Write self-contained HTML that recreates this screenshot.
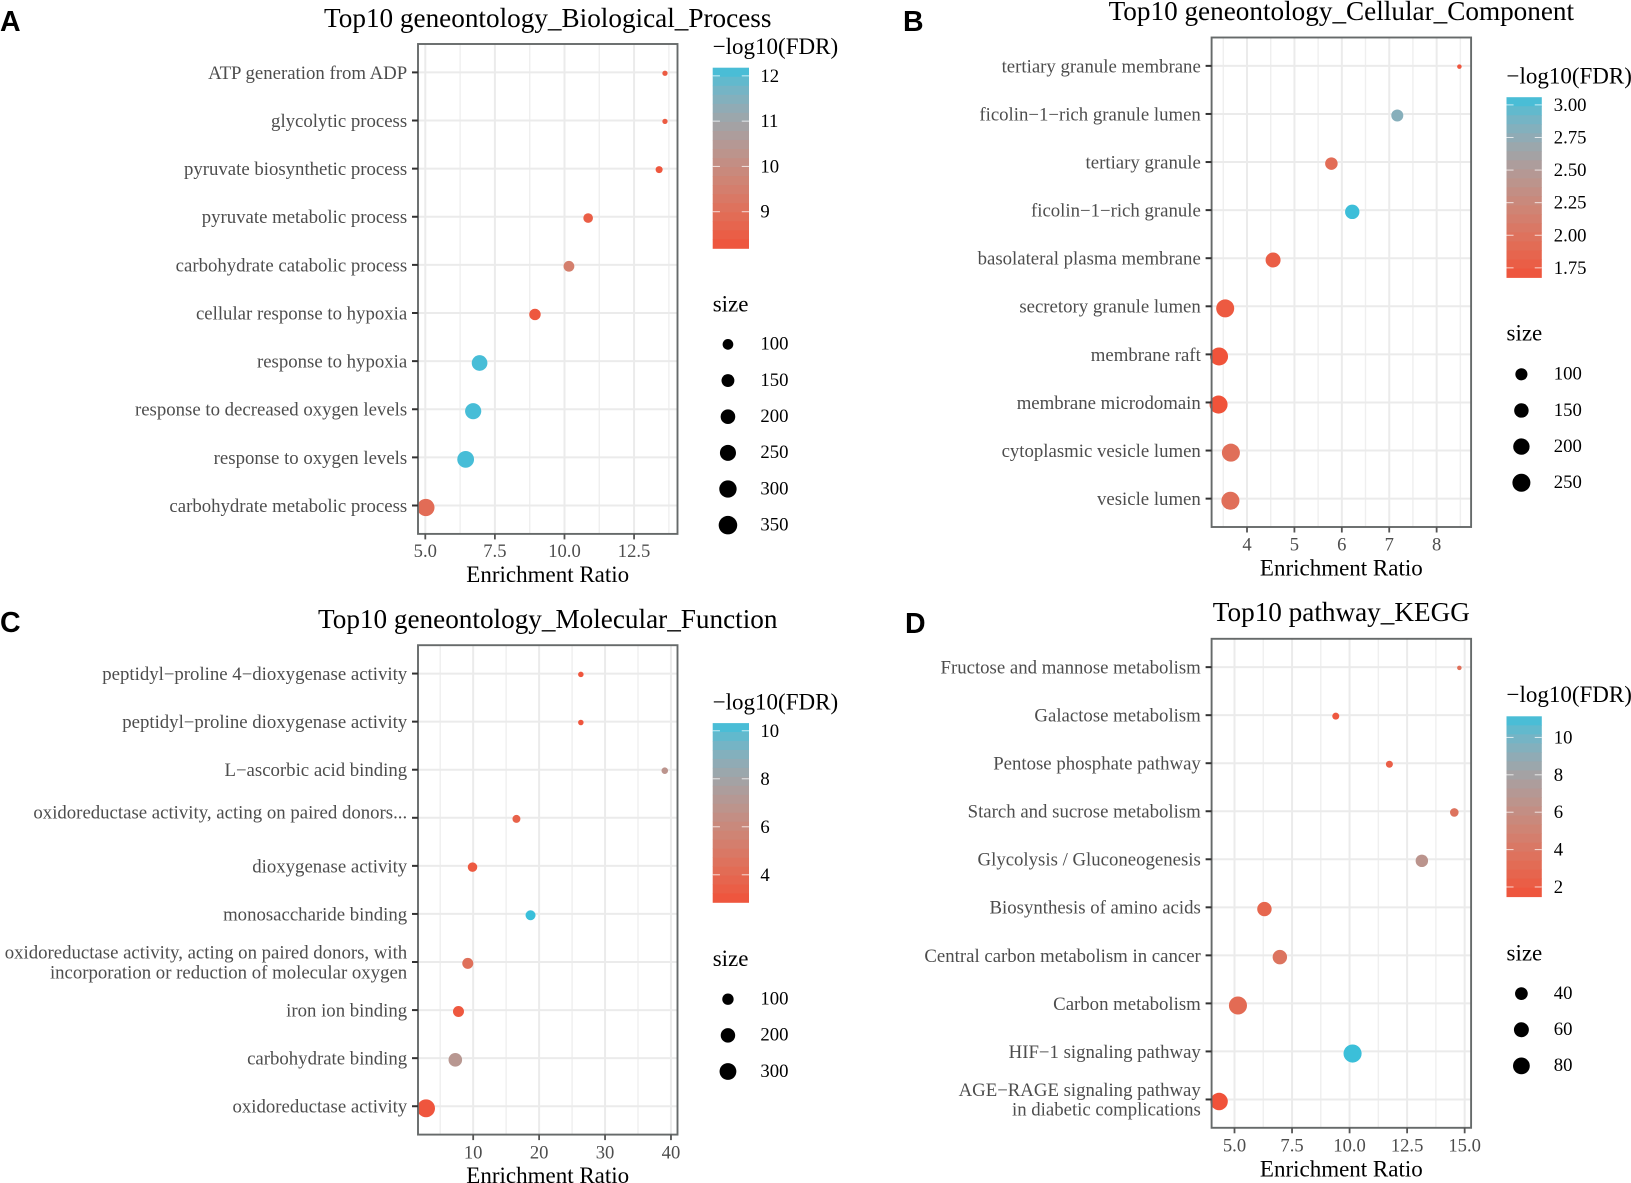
<!DOCTYPE html>
<html>
<head>
<meta charset="utf-8">
<title>Top10 enrichment dot plots</title>
<style>
html,body{margin:0;padding:0;background:#fff;}
svg{display:block;font-family:"Liberation Serif","Times New Roman",serif;}
</style>
</head>
<body>
<svg id="fig" xmlns="http://www.w3.org/2000/svg" width="1631" height="1183" viewBox="0 0 1631 1183">
  <rect width="1631" height="1183" fill="#fff"/>
  <text x="0" y="31" font-family="Liberation Sans, sans-serif" font-weight="bold" font-size="28.500">A</text>
  <text x="903" y="31" font-family="Liberation Sans, sans-serif" font-weight="bold" font-size="28.500">B</text>
  <text x="0" y="632" font-family="Liberation Sans, sans-serif" font-weight="bold" font-size="28.500">C</text>
  <text x="905" y="633" font-family="Liberation Sans, sans-serif" font-weight="bold" font-size="28.500">D</text>
  <g id="panel-bp"></g>
  <g id="panel-cc"></g>
  <g id="panel-mf"></g>
  <g id="panel-kegg"></g>
</svg>
<script>
// ---- Panel A data ----
const bpCategories = ["ATP generation from ADP","glycolytic process","pyruvate biosynthetic process","pyruvate metabolic process","carbohydrate catabolic process","cellular response to hypoxia","response to hypoxia","response to decreased oxygen levels","response to oxygen levels","carbohydrate metabolic process"];
const bpRatios = [13.61,13.61,13.40,10.85,10.16,8.94,6.95,6.72,6.45,5.02];
const bpFdr = [8.4,8.4,8.3,8.5,9.5,8.3,12.1,12.1,12.1,8.9];
const bpSizes = [41,41,50,82,102,115,237,255,277,297];
const bpXTicks = [5,7.5,10,12.5];
const bpXLabels = ["5.0","7.5","10.0","12.5"];
const bpFdrTicks = [12,11,10,9];
const bpFdrLabels = ["12","11","10","9"];
const bpSizeTicks = [100,150,200,250,300,350];

// ---- Panel B data ----
const ccCategories = ["tertiary granule membrane","ficolin\u22121\u2212rich granule lumen","tertiary granule","ficolin\u22121\u2212rich granule","basolateral plasma membrane","secretory granule lumen","membrane raft","membrane microdomain","cytoplasmic vesicle lumen","vesicle lumen"];
const ccRatios = [8.48,7.17,5.78,6.22,4.55,3.54,3.41,3.40,3.66,3.65];
const ccFdr = [1.70,2.80,1.93,3.05,1.78,1.74,1.68,1.68,1.95,1.95];
const ccSizes = [30,98,107,148,163,251,251,251,251,251];
const ccXTicks = [4,5,6,7,8];
const ccXLabels = ["4","5","6","7","8"];
const ccFdrTicks = [3,2.75,2.5,2.25,2,1.75];
const ccFdrLabels = ["3.00","2.75","2.50","2.25","2.00","1.75"];
const ccSizeTicks = [100,150,200,250];

// ---- Panel C data ----
const mfCategories = ["peptidyl\u2212proline 4\u2212dioxygenase activity","peptidyl\u2212proline dioxygenase activity","L\u2212ascorbic acid binding","oxidoreductase activity, acting on paired donors...","dioxygenase activity","monosaccharide binding","oxidoreductase activity, acting on paired donors, with\nincorporation or reduction of molecular oxygen","iron ion binding","carbohydrate binding","oxidoreductase activity"];
const mfRatios = [26.33,26.33,39.06,16.56,9.90,18.70,9.18,7.77,7.29,2.85];
const mfFdr = [3.0,3.0,6.8,3.6,3.2,10.3,4.4,3.1,7.0,3.0];
const mfSizes = [12,12,18,33,58,68,91,91,168,354];
const mfXTicks = [10,20,30,40];
const mfXLabels = ["10","20","30","40"];
const mfFdrTicks = [10,8,6,4];
const mfFdrLabels = ["10","8","6","4"];
const mfSizeTicks = [100,200,300];

// ---- Panel D data ----
const keggCategories = ["Fructose and mannose metabolism","Galactose metabolism","Pentose phosphate pathway","Starch and sucrose metabolism","Glycolysis / Gluconeogenesis","Biosynthesis of amino acids","Central carbon metabolism in cancer","Carbon metabolism","HIF\u22121 signaling pathway","AGE\u2212RAGE signaling pathway\nin diabetic complications"];
const keggRatios = [14.77,9.40,11.73,14.55,13.14,6.30,6.97,5.15,10.13,4.33];
const keggFdr = [3.4,1.8,2.3,3.7,6.6,2.8,3.8,3.1,11.1,1.5];
const keggSizes = [8,11,11,16,38,55,55,96,96,88];
const keggXTicks = [5,7.5,10,12.5,15];
const keggXLabels = ["5.0","7.5","10.0","12.5","15.0"];
const keggFdrTicks = [10,8,6,4,2];
const keggFdrLabels = ["10","8","6","4","2"];
const keggSizeTicks = [40,60,80];

const NS = "http://www.w3.org/2000/svg";

function rgb2lab(c){
  const lin = c.map(v => { v /= 255; return v > 0.04045 ? Math.pow((v + 0.055) / 1.055, 2.4) : v / 12.92; });
  const X = (0.4124 * lin[0] + 0.3576 * lin[1] + 0.1805 * lin[2]) / 0.95047;
  const Y = 0.2126 * lin[0] + 0.7152 * lin[1] + 0.0722 * lin[2];
  const Z = (0.0193 * lin[0] + 0.1192 * lin[1] + 0.9505 * lin[2]) / 1.08883;
  const f = t => t > 0.008856 ? Math.cbrt(t) : 7.787 * t + 16 / 116;
  return [116 * f(Y) - 16, 500 * (f(X) - f(Y)), 200 * (f(Y) - f(Z))];
}
function lab2rgb(l){
  const fy = (l[0] + 16) / 116, fx = fy + l[1] / 500, fz = fy - l[2] / 200;
  const g = t => t * t * t > 0.008856 ? t * t * t : (t - 16 / 116) / 7.787;
  const X = g(fx) * 0.95047, Y = g(fy), Z = g(fz) * 1.08883;
  const lin = [3.2406 * X - 1.5372 * Y - 0.4986 * Z, -0.9689 * X + 1.8758 * Y + 0.0415 * Z, 0.0557 * X - 0.2040 * Y + 1.0570 * Z];
  return lin.map(v => { v = Math.max(0, Math.min(1, v)); return Math.round(255 * (v > 0.0031308 ? 1.055 * Math.pow(v, 1 / 2.4) - 0.055 : 12.92 * v)); });
}
const LOW = rgb2lab([240,82,58]), HIGH = rgb2lab([56,191,218]);

function mk(parent, tag, attrs, txt){
  const e = document.createElementNS(NS, tag);
  for (const k in attrs) e.setAttribute(k, attrs[k]);
  if (txt !== undefined) e.textContent = txt;
  parent.appendChild(e);
  return e;
}
function mixColor(t){
  t = Math.max(0, Math.min(1, t));
  const c = lab2rgb(LOW.map((l, i) => l + (HIGH[i] - l) * t));
  return "rgb(" + c.join(",") + ")";
}

function drawPanel(p){
  const root = document.getElementById(p.id);
  const b = p.box;
  const xScale = v => b.left + (v - p.xDomain[0]) / (p.xDomain[1] - p.xDomain[0]) * (b.right - b.left);
  const step = (b.bottom - b.top) / (p.categories.length + 0.18);
  const yScale = i => b.top + (i + 0.59) * step;
  const fdrT = v => (v - p.fdrDomain[0]) / (p.fdrDomain[1] - p.fdrDomain[0]);
  const diam = s => p.dRange[0] + (p.dRange[1] - p.dRange[0]) * Math.sqrt(Math.max(0, (s - p.sDomain[0]) / (p.sDomain[1] - p.sDomain[0])));

  const title = mk(root, "text", {x:(b.left+b.right)/2, y:p.titleY+8.5, "text-anchor":"middle", "font-size":27.2, fill:"#000"}, p.title);
  
  

  const bg = mk(root, "rect", {x:b.left, y:b.top, width:b.right-b.left, height:b.bottom-b.top, fill:"#fff"});
  
  

  // minor vertical gridlines
  const tickStep = p.xTicks[1] - p.xTicks[0];
  for (let m = p.xTicks[0] - tickStep / 2; m <= p.xDomain[1]; m += tickStep){
    if (m < p.xDomain[0]) continue;
    const g = mk(root, "line", {x1:xScale(m), x2:xScale(m), y1:b.top, y2:b.bottom, stroke:"#efefef", "stroke-width":1.4});
    
    
  }
  // major gridlines
  p.xTicks.forEach(v => {
    const g = mk(root, "line", {x1:xScale(v), x2:xScale(v), y1:b.top, y2:b.bottom, stroke:"#ebebeb", "stroke-width":2});
    
    
  });
  p.categories.forEach((c, i) => {
    const g = mk(root, "line", {x1:b.left, x2:b.right, y1:yScale(i), y2:yScale(i), stroke:"#ebebeb", "stroke-width":2});
    
    
  });

  // points
  p.categories.forEach((c, i) => {
    const d = diam(p.sizes[i]);
    const pt = mk(root, "circle", {cx:xScale(p.ratios[i]), cy:yScale(i) + d * 0.1 + 0.3, r:d/2, fill:mixColor(fdrT(p.fdr[i]))});
    
    
  });

  const border = mk(root, "rect", {x:b.left, y:b.top, width:b.right-b.left, height:b.bottom-b.top, fill:"none", stroke:"#666a6a", "stroke-width":1.9});
  
  

  // y axis
  p.categories.forEach((c, i) => {
    const y = yScale(i);
    const t = mk(root, "line", {x1:b.left-6, x2:b.left, y1:y, y2:y, stroke:"#333", "stroke-width":2});
    
    
    const lines = c.split("\n");
    const shift = c.endsWith("...") ? -5.7 : 0;
    lines.forEach((ln, k) => {
      const cy = y + shift + (k - (lines.length - 1) / 2) * 19.7;
      const lab = mk(root, "text", {x:b.left-10.8, y:cy+6.4, "text-anchor":"end", "font-size":18.8, fill:"#4d4d4d"}, ln);
      
      
    });
  });

  // x axis
  p.xTicks.forEach((v, i) => {
    const t = mk(root, "line", {x1:xScale(v), x2:xScale(v), y1:b.bottom, y2:b.bottom+5.5, stroke:"#555", "stroke-width":1.8});
    
    
    const lab = mk(root, "text", {x:xScale(v), y:p.xLabelY+6, "text-anchor":"middle", "font-size":18.6, fill:"#4d4d4d"}, p.xLabels[i]);
    
    
  });
  const xt = mk(root, "text", {x:(b.left+b.right)/2, y:p.xTitleY+7, "text-anchor":"middle", "font-size":23, fill:"#000"}, "Enrichment Ratio");
  
  

  // colour legend
  const L = p.legend;
  const lt = mk(root, "text", {x:L.x, y:L.titleY+7, "font-size":23, fill:"#000"}, "\u2212log10(FDR)");
  
  
  const barH = L.barBottom - L.barTop, bins = 20;
  for (let k = 0; k < bins; k++){
    const r = mk(root, "rect", {x:L.x, y:L.barTop + barH * k / bins, width:L.barW, height:barH / bins + 0.4, fill:mixColor(1 - (k + 0.5) / bins)});
    
    
  }
  p.fdrTicks.forEach((v, i) => {
    const y = L.barBottom - fdrT(v) * barH;
    const w = L.barW / 5;
    const t1 = mk(root, "line", {x1:L.x, x2:L.x+w, y1:y, y2:y, stroke:"#fff", "stroke-width":1, opacity:0.75});
    
    
    const t2 = mk(root, "line", {x1:L.x+L.barW-w, x2:L.x+L.barW, y1:y, y2:y, stroke:"#fff", "stroke-width":1, opacity:0.75});
    
    
    const lab = mk(root, "text", {x:L.labelX, y:y+6, "font-size":18.7, fill:"#000"}, p.fdrLabels[i]);
    
    
  });

  // size legend
  const st = mk(root, "text", {x:L.x, y:L.sizeTitleY+6.5, "font-size":23, fill:"#000"}, "size");
  
  
  p.sizeTicks.forEach((v, i) => {
    const y = L.sizeFirstY + i * 36.15;
    const c = mk(root, "circle", {cx:L.x+L.barW/2-L.dotShift, cy:y, r:diam(v)/2, fill:"#000"});
    
    
    const lab = mk(root, "text", {x:L.labelX, y:y+5.3, "font-size":18.7, fill:"#000"}, String(v));
    
    
  });
}

drawPanel({id:"panel-bp", title:"Top10 geneontology_Biological_Process", titleY:18.4,
  categories:bpCategories, ratios:bpRatios, fdr:bpFdr, sizes:bpSizes,
  xTicks:bpXTicks, xLabels:bpXLabels, fdrTicks:bpFdrTicks, fdrLabels:bpFdrLabels, sizeTicks:bpSizeTicks,
  box:{left:418,right:677.5,top:44,bottom:533.9}, xDomain:[4.738,14.06], fdrDomain:[8.19,12.18],
  sDomain:[40,370], dRange:[4.5,19], xLabelY:551, xTitleY:575,
  legend:{x:712.7,barW:36.3,barTop:67.7,barBottom:248.4,labelX:760.4,titleY:47,sizeTitleY:305,sizeFirstY:344.4,dotShift:2.9}});

drawPanel({id:"panel-cc", title:"Top10 geneontology_Cellular_Component", titleY:11.5,
  categories:ccCategories, ratios:ccRatios, fdr:ccFdr, sizes:ccSizes,
  xTicks:ccXTicks, xLabels:ccXLabels, fdrTicks:ccFdrTicks, fdrLabels:ccFdrLabels, sizeTicks:ccSizeTicks,
  box:{left:1211.6,right:1471.1,top:37.5,bottom:527}, xDomain:[3.253,8.727], fdrDomain:[1.676,3.059],
  sDomain:[30,260], dRange:[4.5,18.3], xLabelY:544.6, xTitleY:568.3,
  legend:{x:1506.5,barW:35.3,barTop:97.2,barBottom:277.5,labelX:1553.8,titleY:76.5,sizeTitleY:334,sizeFirstY:374.3,dotShift:2.75}});

drawPanel({id:"panel-mf", title:"Top10 geneontology_Molecular_Function", titleY:619.5,
  categories:mfCategories, ratios:mfRatios, fdr:mfFdr, sizes:mfSizes,
  xTicks:mfXTicks, xLabels:mfXLabels, fdrTicks:mfFdrTicks, fdrLabels:mfFdrLabels, sizeTicks:mfSizeTicks,
  box:{left:418,right:677.5,top:645.2,bottom:1134.6}, xDomain:[1.63,40.99], fdrDomain:[2.85,10.32],
  sDomain:[10,380], dRange:[4.5,18.4], xLabelY:1152.4, xTitleY:1176,
  legend:{x:712.7,barW:36.3,barTop:723.1,barBottom:902.4,labelX:760.4,titleY:702.3,sizeTitleY:959.5,sizeFirstY:999.2,dotShift:2.9}});

drawPanel({id:"panel-kegg", title:"Top10 pathway_KEGG", titleY:612.7,
  categories:keggCategories, ratios:keggRatios, fdr:keggFdr, sizes:keggSizes,
  xTicks:keggXTicks, xLabels:keggXLabels, fdrTicks:keggFdrTicks, fdrLabels:keggFdrLabels, sizeTicks:keggSizeTicks,
  box:{left:1211.6,right:1471.1,top:638.8,bottom:1127.8}, xDomain:[4.005,15.28], fdrDomain:[1.48,11.13],
  sDomain:[8,100], dRange:[4.5,18.4], xLabelY:1145.6, xTitleY:1169.4,
  legend:{x:1506.5,barW:35.3,barTop:716.3,barBottom:896.7,labelX:1553.8,titleY:695.1,sizeTitleY:953.8,sizeFirstY:993.6,dotShift:2.75}});
</script>
</body>
</html>
